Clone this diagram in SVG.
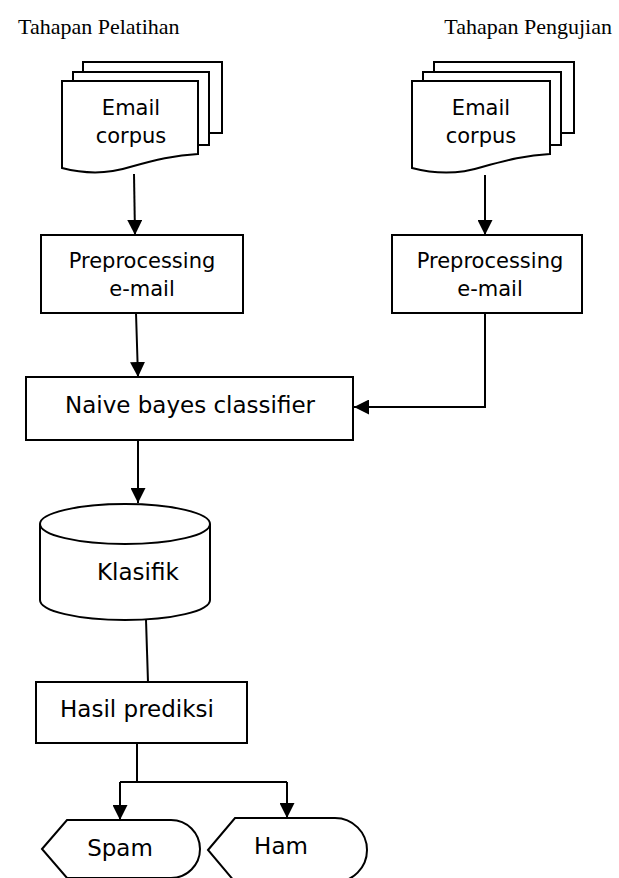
<svg xmlns="http://www.w3.org/2000/svg" width="619" height="878" viewBox="0 0 619 878">
  <style>
    .shape { fill: #fff; stroke: #000; stroke-width: 2; }
    .edge { fill: none; stroke: #000; stroke-width: 2; }
    .lbl { font-family: "DejaVu Sans", "Liberation Sans", sans-serif; font-size: 21px; fill: #000; text-anchor: middle; }
    .big { font-size: 23px; }
    .title { font-family: "Liberation Serif", serif; font-size: 22px; fill: #000; }
  </style>
  <defs>
    <marker id="arrow" viewBox="0 0 15 15" refX="15" refY="7.5" markerWidth="15" markerHeight="15" markerUnits="userSpaceOnUse" orient="auto">
      <path d="M0,0 L15,7.5 L0,15 Z" fill="#000"/>
    </marker>
  </defs>

  <!-- stage titles -->
  <text class="title" x="18" y="34">Tahapan Pelatihan</text>
  <text class="title" x="612" y="34" text-anchor="end">Tahapan Pengujian</text>

  <!-- training: document stack -->
  <g id="doc-train">
    <path class="shape" d="M83,72 V62 H222 V133 H209 V72 Z"/>
    <path class="shape" d="M73,81 V72 H209 V145 H198 V81 Z"/>
    <path class="shape" d="M62,81 H198 V154 C175,155 155,160 130,167 C108,174 85,174 62,168 Z"/>
    <text class="lbl" x="131" y="115">Email</text>
    <text class="lbl" x="131" y="143">corpus</text>
  </g>

  <!-- testing: document stack -->
  <g id="doc-test">
    <path class="shape" d="M434,72 V62 H574 V133 H561 V72 Z"/>
    <path class="shape" d="M423,81 V72 H561 V145 H550 V81 Z"/>
    <path class="shape" d="M412,81 H550 V154 C527,155 507,160 482,167 C460,174 435,174 412,168 Z"/>
    <text class="lbl" x="481" y="115">Email</text>
    <text class="lbl" x="481" y="143">corpus</text>
  </g>

  <g id="prep-train">
    <rect class="shape" x="41" y="235" width="202" height="78"/>
    <text class="lbl" x="142" y="268">Preprocessing</text>
    <text class="lbl" x="142" y="296">e-mail</text>
  </g>

  <g id="prep-test">
    <rect class="shape" x="392" y="235" width="190" height="78"/>
    <text class="lbl" x="490" y="268">Preprocessing</text>
    <text class="lbl" x="490" y="296">e-mail</text>
  </g>

  <g id="classifier">
    <rect class="shape" x="26" y="377" width="327" height="63"/>
    <text class="lbl big" x="190" y="413">Naive bayes classifier</text>
  </g>

  <g id="model">
    <path class="shape" d="M40,524 V600 A85,20 0 0 0 210,600 V524"/>
    <ellipse class="shape" cx="125" cy="524" rx="85" ry="20"/>
    <text class="lbl big" x="97" y="580" style="text-anchor:start">Klasifik</text>
  </g>

  <g id="result">
    <rect class="shape" x="36" y="682" width="211" height="61"/>
    <text class="lbl big" x="137" y="717">Hasil prediksi</text>
  </g>

  <g id="spam">
    <path class="shape" d="M42,849 L67,820 H171 A29,29 0 0 1 171,878 H67 Z"/>
    <text class="lbl big" x="120" y="856">Spam</text>
  </g>

  <g id="ham">
    <path class="shape" d="M208,850 L235,818 H335 A32,32 0 0 1 335,882 H235 Z"/>
    <text class="lbl big" x="281" y="854">Ham</text>
  </g>

  <!-- connectors -->
  <g id="connectors">
    <path class="edge" d="M134,174 L135,235" marker-end="url(#arrow)"/>
    <path class="edge" d="M485,175 V235" marker-end="url(#arrow)"/>
    <path class="edge" d="M136,313 L138,377" marker-end="url(#arrow)"/>
    <path class="edge" d="M485,313 V407 H354" marker-end="url(#arrow)"/>
    <path class="edge" d="M138,440 V503" marker-end="url(#arrow)"/>
    <path class="edge" d="M146,620 L148,682"/>
    <path class="edge" d="M137,743 V782"/>
    <path class="edge" d="M120,782 H287"/>
    <path class="edge" d="M120,782 V820" marker-end="url(#arrow)"/>
    <path class="edge" d="M287,782 V818" marker-end="url(#arrow)"/>
  </g>
</svg>
